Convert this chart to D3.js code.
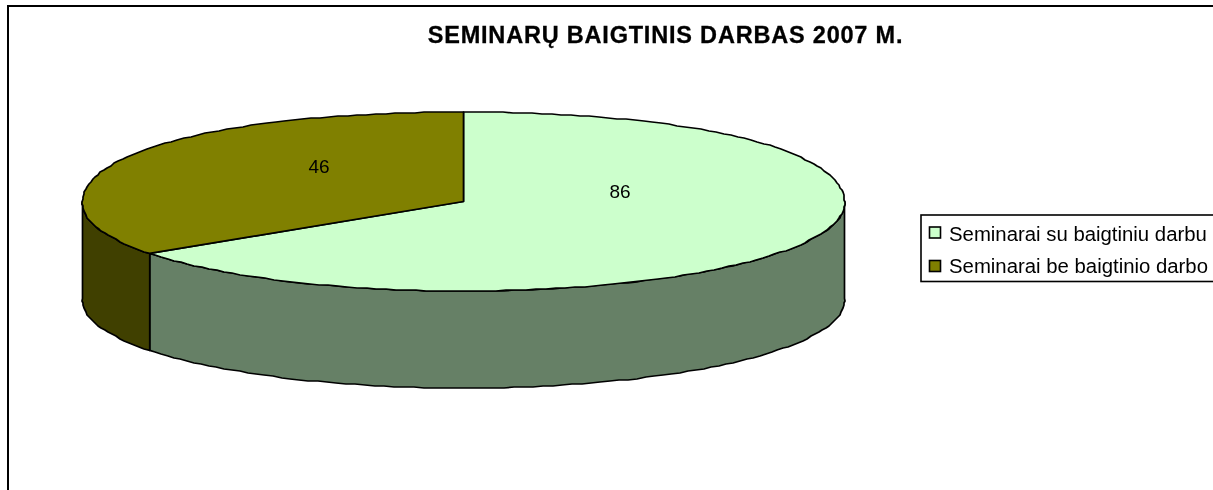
<!DOCTYPE html>
<html lang="lt">
<head>
<meta charset="UTF-8">
<title>Seminarų baigtinis darbas 2007 m.</title>
<script src="https://d3js.org/d3.v7.min.js"></script>
<style>
    html, body { margin: 0; padding: 0; background: #fff; overflow: hidden; }
    svg { display: block; filter: blur(0.3px); }
    text { font-family: "Liberation Sans", Arial, sans-serif; fill: #000; }
    .title { font-size: 23.5px; font-weight: bold; text-anchor: middle; letter-spacing: 0.8px; stroke: #000; stroke-width: 0.3px; }
    .label { font-size: 19px; text-anchor: middle; }
    .legend-text { font-size: 20.35px; }
</style>
</head>
<body>
<svg id="chart" width="1213" height="490"></svg>
<script>
const categories = ["Seminarai su baigtiniu darbu", "Seminarai be baigtinio darbo"];
const values = [86, 46];
const topColors = ["#ccffcc", "#808000"];
const wallColors = ["#668066", "#404000"];
const chartTitle = "SEMINARŲ BAIGTINIS DARBAS 2007 M.";

const cx = 463.5, cy = 201.5, rx = 381, ry = 89.5, depth = 97;
const labelPos = [[620, 198], [319, 173.3]];
// the 3d pie is not a true ellipse: front is a bit wider, back a bit fuller
const frontWiden = 0.019, backBulge = 7;

const svg = d3.select("#chart");

// chart frame, right and bottom sides fall outside the window
svg.append("rect")
    .attr("x", 8).attr("y", 6)
    .attr("width", 1300).attr("height", 600)
    .attr("fill", "#fff")
    .attr("stroke", "#000").attr("stroke-width", 2);

svg.append("text")
    .attr("class", "title")
    .attr("x", 665.5).attr("y", 43)
    .text(chartTitle);

const x = d3.scaleLinear().domain([-1, 1]).range([cx - rx, cx + rx]);
const y = d3.scaleLinear().domain([-1, 1]).range([cy + ry, cy - ry]);

const arcs = d3.pie().value(d => d).sort(null)(values);

const line = d3.line().x(d => d[0]).y(d => d[1]);

function project(a, dy) {
    const s = Math.sin(a), c = Math.cos(a);
    return [
        x(s * (1 + frontWiden * Math.max(-c, 0))),
        y(c) + dy - backBulge * Math.max(c, 0) * s * s
    ];
}

// rim points are snapped to whole pixels, that gives the jagged edge of the original
function rim(a0, a1, dy) {
    const n = Math.max(2, Math.ceil(Math.abs(a1 - a0) / 0.026));
    return d3.range(n + 1).map(i => {
        const p = project(a0 + (a1 - a0) * i / n, dy);
        return i === 0 || i === n ? p : [Math.round(p[0]), Math.round(p[1])];
    });
}

// walls, only the front half of the cylinder shows
arcs.forEach((d, i) => {
    const a0 = Math.max(d.startAngle, Math.PI / 2);
    const a1 = Math.min(d.endAngle, Math.PI * 1.5);
    if (a1 <= a0) return;
    const pts = rim(a0, a1, 0).concat(rim(a1, a0, depth));
    svg.append("path")
        .attr("d", line(pts) + "Z")
        .attr("fill", wallColors[i])
        .attr("stroke", "#000").attr("stroke-width", 1.7)
        .attr("stroke-linejoin", "round");
});

// top slices
arcs.forEach((d, i) => {
    const pts = [[x(0), y(0)]].concat(rim(d.startAngle, d.endAngle, 0));
    svg.append("path")
        .attr("d", line(pts) + "Z")
        .attr("fill", topColors[i])
        .attr("stroke", "#000").attr("stroke-width", 1.7)
        .attr("stroke-linejoin", "round");
});

values.forEach((v, i) => {
    svg.append("text")
        .attr("class", "label")
        .attr("x", labelPos[i][0]).attr("y", labelPos[i][1])
        .text(v);
});

// legend
const legend = svg.append("g");
legend.append("rect")
    .attr("x", 921).attr("y", 215)
    .attr("width", 340).attr("height", 66.5)
    .attr("fill", "#fff")
    .attr("stroke", "#000").attr("stroke-width", 1.6);

categories.forEach((c, i) => {
    const rowY = 232.5 + i * 33.5;
    legend.append("rect")
        .attr("x", 929.5).attr("y", rowY - 5.5)
        .attr("width", 11).attr("height", 11)
        .attr("fill", topColors[i])
        .attr("stroke", "#000").attr("stroke-width", 1.6);
    legend.append("text")
        .attr("class", "legend-text")
        .attr("x", 949).attr("y", 240.7 + i * 32)
        .text(c);
});
</script>
</body>
</html>
